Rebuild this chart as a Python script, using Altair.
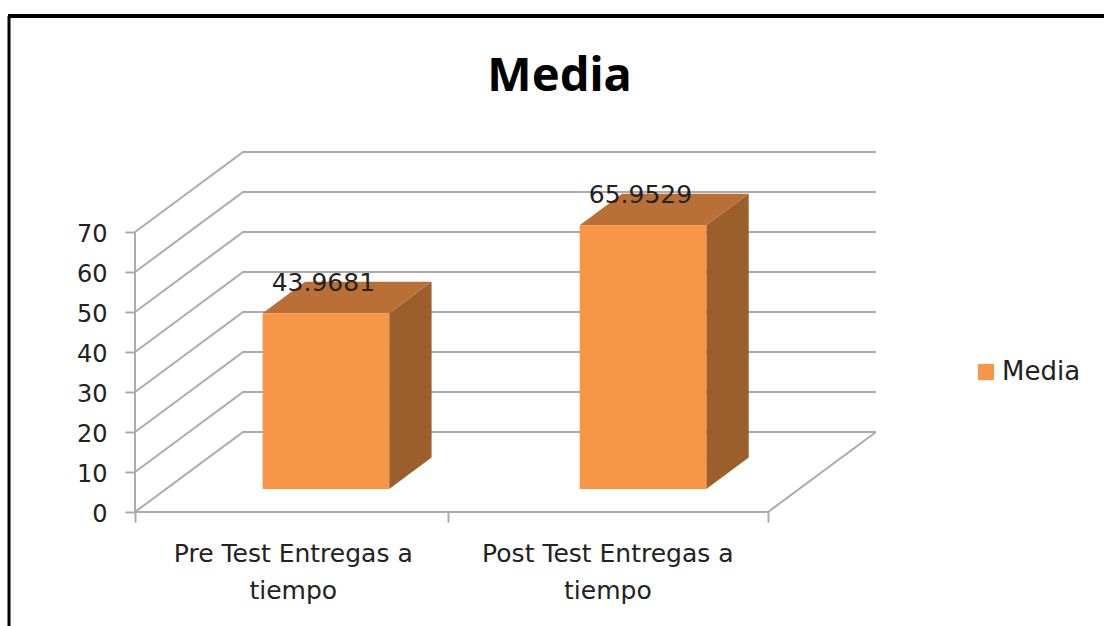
import altair as alt
import pandas as pd

# Chart content
title_text = "Media"
categories = ["Pre Test Entregas a|tiempo", "Post Test Entregas a|tiempo"]
category_centers = [0.5, 1.494]
bar_centers = [0.505, 1.507]
values = [43.9681, 65.9529]
value_labels = ["43.9681", "65.9529"]
series_name = "Media"
value_ticks = [0, 10, 20, 30, 40, 50, 60, 70]
category_ticks = [0, 0.99, 2]

# Oblique projection of the 3D box: one unit of depth moves a point
# right along the category axis and up along the value axis.
SKEW_X = 0.3412
SKEW_Y = 20.0
BAR_HALF = 0.2
DEPTH_FRONT = 0.2875
DEPTH_BACK = 0.68
LABEL_LIFT = 7.6
LABEL_SHIFT = -0.008

FRONT = "#F79646"
TOP = "#B96F35"
SIDE = "#9A5F2B"
GRID = "#ABABAB"
TEXT = "#222222"
FONT = "DejaVu Sans"


def px(x, depth):
    return x + depth * SKEW_X


def py(v, depth):
    return v + depth * SKEW_Y


x_scale = alt.Scale(domain=[0, 2 + SKEW_X], nice=False, zero=False)
y_scale = alt.Scale(domain=[0, 70 + SKEW_Y], nice=False, zero=False)

# Walls, floor and the value axis line, which stops at the highest tick
grid_rows = []
for v in value_ticks:
    grid_rows.append(dict(id=f"side{v}", x=px(0, 0), y=py(v, 0), k=0))
    grid_rows.append(dict(id=f"side{v}", x=px(0, 1), y=py(v, 1), k=1))
    grid_rows.append(dict(id=f"side{v}", x=px(2, 1), y=py(v, 1), k=2))
grid_rows.append(dict(id="floor", x=px(2, 1), y=py(0, 1), k=0))
grid_rows.append(dict(id="floor", x=px(2, 0), y=py(0, 0), k=1))
grid_rows.append(dict(id="floor", x=px(0, 0), y=py(0, 0), k=2))
grid_rows.append(dict(id="spine", x=px(0, 0), y=py(value_ticks[0], 0), k=0))
grid_rows.append(dict(id="spine", x=px(0, 0), y=py(value_ticks[-1], 0), k=1))
grid_df = pd.DataFrame(grid_rows)

# Both position channels share one axis definition across the layers
x_axis = alt.Axis(
    values=category_ticks, labels=False, title=None, grid=False, domain=False,
    tickSize=10, tickColor=GRID, tickWidth=2,
)
y_axis = alt.Axis(
    values=value_ticks, title=None, grid=False, domain=False,
    tickSize=10, tickColor=GRID, tickWidth=2, labelFont=FONT, labelFontSize=24,
    labelColor=TEXT, labelPadding=18, labelOffset=2,
)
base_x = alt.X("x:Q", scale=x_scale, axis=x_axis)
base_y = alt.Y("y:Q", scale=y_scale, axis=y_axis)

grid = alt.Chart(grid_df).mark_line(color=GRID, strokeWidth=2).encode(
    x=base_x, y=base_y, detail="id:N", order="k:Q"
)

# Bar faces
top_rows, side_rows, front_rows, label_rows = [], [], [], []
for i, (c, v, lab) in enumerate(zip(bar_centers, values, value_labels)):
    left, right = c - BAR_HALF, c + BAR_HALF
    for d in (DEPTH_FRONT, DEPTH_BACK):
        top_rows.append(dict(bar=i, y=py(v, d), x=px(left, d), x2=px(right, d)))
        side_rows.append(dict(bar=i, x=px(right, d), y=py(v, d), y2=py(0, d)))
    front_rows.append(
        dict(bar=i, x=px(left, DEPTH_FRONT), x2=px(right, DEPTH_FRONT),
             y=py(v, DEPTH_FRONT), y2=py(0, DEPTH_FRONT), series=series_name)
    )
    label_rows.append(
        dict(x=px(c + LABEL_SHIFT, DEPTH_FRONT), y=py(v, DEPTH_FRONT) + LABEL_LIFT, label=lab)
    )

top_face = alt.Chart(pd.DataFrame(top_rows)).mark_area(orient="horizontal", color=TOP).encode(
    y=base_y, x=base_x, x2="x2:Q", detail="bar:N"
)
side_face = alt.Chart(pd.DataFrame(side_rows)).mark_area(orient="vertical", color=SIDE).encode(
    x=base_x, y=base_y, y2="y2:Q", detail="bar:N"
)
front_face = alt.Chart(pd.DataFrame(front_rows)).mark_rect().encode(
    x=base_x, x2="x2:Q", y=base_y, y2="y2:Q",
    color=alt.Color(
        "series:N",
        scale=alt.Scale(domain=[series_name], range=[FRONT]),
        legend=alt.Legend(
            title=None, orient="none", legendX=838, legendY=207, symbolType="square",
            symbolSize=260, symbolStrokeWidth=0, labelFont=FONT, labelFontSize=26,
            labelColor=TEXT, labelOffset=3,
        ),
    ),
)

bar_labels = alt.Chart(pd.DataFrame(label_rows)).mark_text(
    font=FONT, fontSize=25, color=TEXT, baseline="middle", align="center"
).encode(x=base_x, y=base_y, text="label:N")

category_labels = alt.Chart(
    pd.DataFrame({"x": category_centers, "label": categories})
).mark_text(
    font=FONT, fontSize=25, color=TEXT, baseline="middle", align="center",
    lineBreak="|", lineHeight=37,
).encode(x=base_x, y=alt.value(402), text="label:N")

# Outer frame along the top and left of the picture
frame_left = alt.Chart(pd.DataFrame({"a": [0]})).mark_rule(color="#000000", strokeWidth=3).encode(
    x=alt.value(-126), y=alt.value(-136), y2=alt.value(474)
)
frame_top = alt.Chart(pd.DataFrame({"a": [0]})).mark_rule(color="#000000", strokeWidth=4).encode(
    x=alt.value(-127), x2=alt.value(969), y=alt.value(-136)
)

chart = (
    alt.layer(
        grid, side_face, top_face, front_face, bar_labels, category_labels,
        frame_left, frame_top,
    )
    .resolve_scale(x="shared", y="shared")
    .properties(
        width=741,
        height=360,
        background="#ffffff",
        padding={"left": 135, "top": 152, "right": 228, "bottom": 114},
        autosize=alt.AutoSizeParams(type="none"),
        title=alt.TitleParams(
            title_text, anchor="middle", dx=54, offset=-87, font="Noto Sans",
            fontSize=47, fontWeight="bold", color="#000000",
        ),
    )
    .configure_view(strokeWidth=0)
)

chart.save("out.html", embed_options={"renderer": "svg", "actions": False})
